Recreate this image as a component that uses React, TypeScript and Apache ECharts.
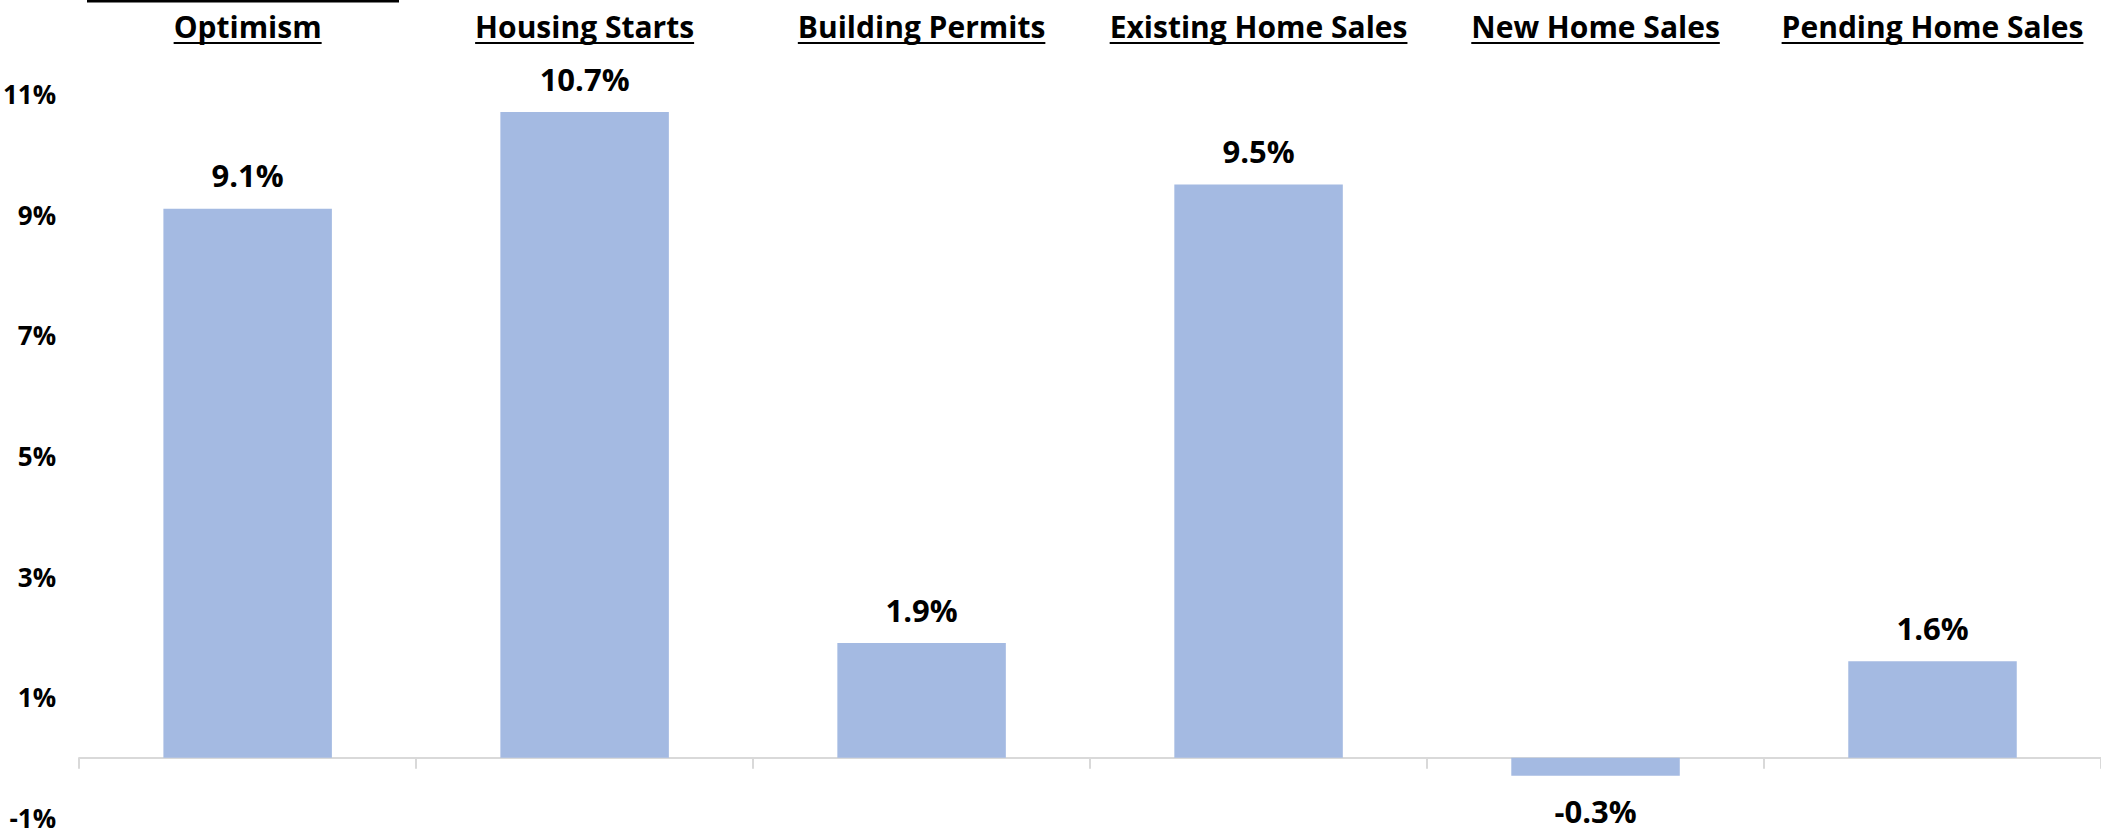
import React, { useEffect, useRef } from "react";
import * as echarts from "echarts";

const categories = [
  "Optimism",
  "Housing Starts",
  "Building Permits",
  "Existing Home Sales",
  "New Home Sales",
  "Pending Home Sales",
];
const values = [9.1, 10.7, 1.9, 9.5, -0.3, 1.6];
const yTicks = { min: -1, max: 11, interval: 2 };

const FONT = "'Open Sans', 'Noto Sans', sans-serif";
const BAR_COLOR = "#A4BAE2";
const AXIS_COLOR = "#D9D9D9";
const CAT_FONT_SIZE = 30;

function measure(text: string, size: number): number {
  const c = document.createElement("canvas");
  const ctx = c.getContext("2d");
  if (!ctx) return text.length * size * 0.5;
  ctx.font = `bold ${size}px 'Open Sans'`;
  return ctx.measureText(text).width;
}

export default function App() {
  const ref = useRef<HTMLDivElement>(null);

  useEffect(() => {
    if (!ref.current) return;
    const chart = echarts.init(ref.current, null, { renderer: "svg" });
    const widths = categories.map((c) => measure(c, CAT_FONT_SIZE));

    chart.setOption({
      animation: false,
      backgroundColor: "#FFFFFF",
      textStyle: { fontFamily: FONT },
      grid: { left: 74, top: 94, width: 2032, height: 724, containLabel: false },
      xAxis: {
        type: "category",
        data: categories,
        boundaryGap: true,
        axisLine: { onZero: true, lineStyle: { color: AXIS_COLOR, width: 2 } },
        axisTick: { show: true, interval: 0, length: 11, lineStyle: { color: AXIS_COLOR, width: 2 } },
        axisLabel: { show: false },
        splitLine: { show: false },
      },
      yAxis: {
        type: "value",
        min: yTicks.min,
        max: yTicks.max,
        interval: yTicks.interval,
        axisLine: { show: false },
        axisTick: { show: false },
        splitLine: { show: false },
        axisLabel: {
          formatter: (v: number) => `${v}%`,
          color: "#000000",
          fontFamily: FONT,
          fontWeight: "bold",
          fontSize: 26,
          lineHeight: 22,
          margin: 23,
        },
      },
      graphic: [
        {
          type: "line",
          shape: { x1: 87, y1: 1.3, x2: 399, y2: 1.3 },
          style: { stroke: "#000000", lineWidth: 2.6 },
        },
      ],
      series: [
        {
          type: "bar",
          data: values.map((v) => ({
            value: v,
            label: {
              show: true,
              position: v >= 0 ? "top" : "bottom",
              distance: v >= 0 ? 18 : 20,
              formatter: `${v.toFixed(1)}%`,
              color: "#000000",
              fontFamily: FONT,
              fontWeight: "bold",
              fontSize: 31,
            },
          })),
          barWidth: "50%",
          itemStyle: { color: BAR_COLOR },
        },
        {
          type: "custom",
          clip: false,
          silent: true,
          data: categories.map((_, i) => [i, 0]),
          renderItem: (params: any, api: any) => {
            const i = api.value(0);
            const x = api.coord([i, 0])[0];
            const w = widths[i];
            return {
              type: "group",
              children: [
                {
                  type: "text",
                  x,
                  y: 26,
                  style: {
                    text: categories[i],
                    fill: "#000000",
                    fontFamily: FONT,
                    fontWeight: "bold",
                    fontSize: CAT_FONT_SIZE,
                    align: "center",
                    verticalAlign: "middle",
                  },
                },
                {
                  type: "line",
                  shape: { x1: x - w / 2, y1: 43, x2: x + w / 2, y2: 43 },
                  style: { stroke: "#000000", lineWidth: 2 },
                },
              ],
            };
          },
        },
      ],
    });

    return () => chart.dispose();
  }, []);

  return (
    <div
      ref={ref}
      style={{ position: "fixed", left: 0, top: 0, width: 2101, height: 833, background: "#fff" }}
    />
  );
}
